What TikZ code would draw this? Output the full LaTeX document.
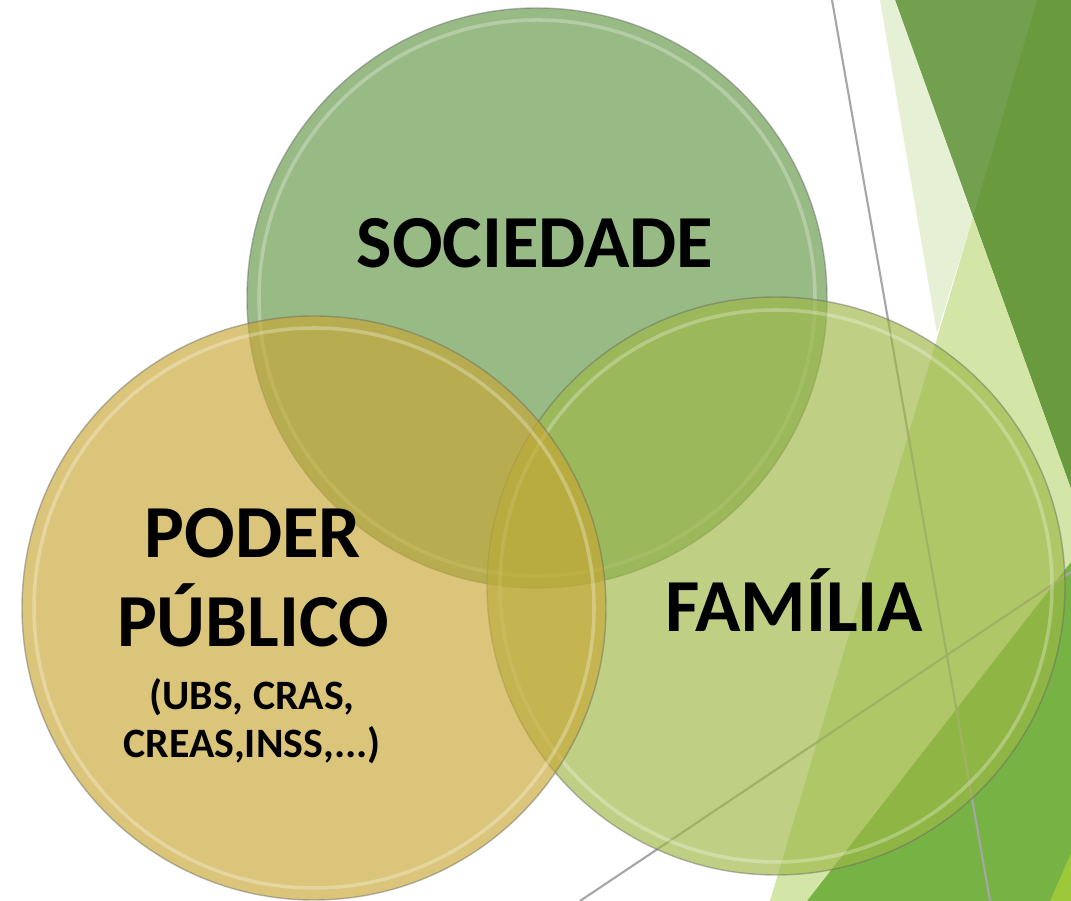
\documentclass[tikz,border=0pt]{standalone}
\usepackage{fontspec}
\setmainfont{Carlito}
\usetikzlibrary{positioning}
\definecolor{folhaesc}{HTML}{6A9A3E}
\definecolor{folhaclr}{HTML}{72A04F}
\definecolor{palido}{HTML}{E6F0D4}
\definecolor{medio}{HTML}{D3E6A8}
\definecolor{vivo}{HTML}{77B245}
\definecolor{lima}{HTML}{9DC83A}
\definecolor{soc}{HTML}{629845}
\definecolor{fam}{HTML}{9DB744}
\definecolor{pod}{HTML}{C9A734}
\begin{document}
\begin{tikzpicture}[inner sep=0mm,
  roda/.style={circle,minimum size=#1,fill opacity=0.65,draw=black!60,draw opacity=0.45,line width=0.4pt},
  brilho/.style={white,opacity=0.28,line width=1pt},
  fio/.style={draw=black!35,line width=0.6pt},
  grande/.style={font=\bfseries\fontsize{21.3}{25.6}\selectfont,align=center,anchor=base},
  pequeno/.style={font=\bfseries\fontsize{11.9}{13.7}\selectfont,align=center,anchor=base}]
\useasboundingbox (0,0) rectangle (10.71,9.01);
\fill[white] (0,0) rectangle (10.71,9.01);
\fill[folhaesc] (8.95,9.01) -- (10.71,9.01) -- (10.71,4.12) -- cycle;
\fill[folhaclr] (8.95,9.01) -- (10.37,9.01) -- (9.73,6.84) -- cycle;
\fill[palido] (8.80,9.01) -- (8.95,9.01) -- (9.73,6.84) -- (9.37,5.68) -- cycle;
\fill[medio] (9.73,6.84) -- (7.70,0) -- (8.07,0) -- (10.71,3.39) -- (10.71,4.12) -- cycle;
\fill[vivo] (8.07,0) -- (10.71,0) -- (10.71,3.39) -- cycle;
\fill[lima] (10.50,0) -- (10.71,0) -- (10.71,0.48) -- cycle;
\draw[fio] (8.32,9.01) -- (9.90,0);
\draw[fio] (5.80,0) -- (10.71,3.29);
\node[roda=5.80cm,fill=soc] (soc) at (5.37,6.03) {};
\draw[brilho] (soc.center) circle (2.78);
\node[roda=5.78cm,fill=fam] (fam) at (7.76,3.15) {};
\draw[brilho] (fam.center) circle (2.76);
\node[roda=5.84cm,fill=pod] (pod) at (3.14,2.93) {};
\draw[brilho] (pod.center) circle (2.80);
\node[grande] (tsoc) at (5.35,6.33) {SOCIEDADE};
\node[grande] (tfam) at (7.94,2.69) {FAMÍLIA};
\node[grande] (tpod) at (2.53,2.54) {PODER\\PÚBLICO};
\node[pequeno] (torg) at (2.52,1.43) {(UBS, CRAS,\\CREAS,INSS,...)};
\end{tikzpicture}
\end{document}
